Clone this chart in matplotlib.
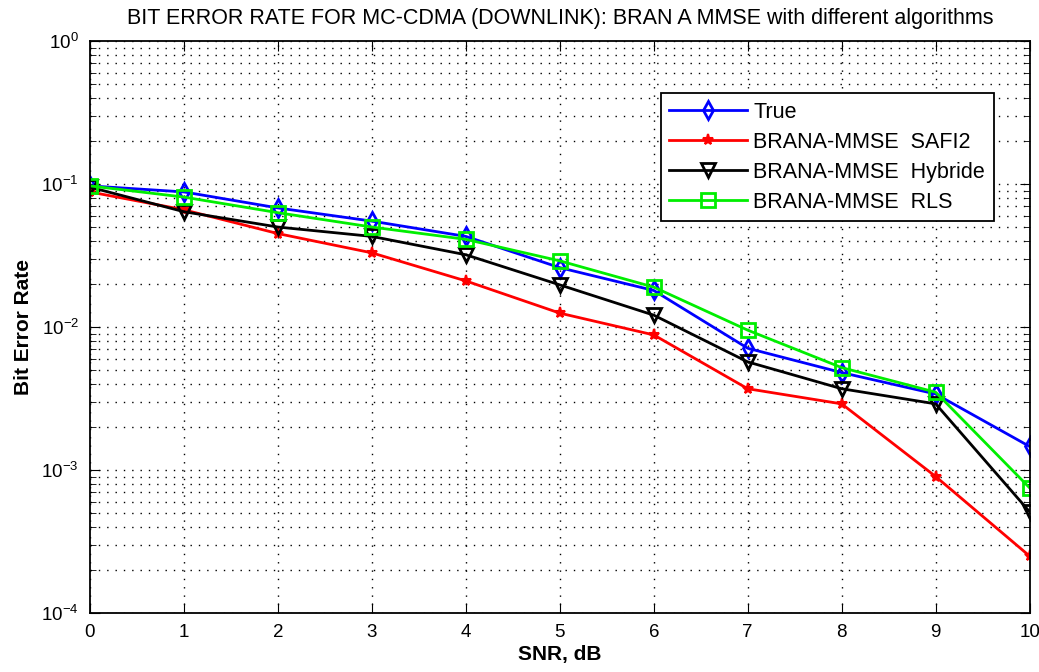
import numpy as np
import matplotlib
matplotlib.use("Agg")
import matplotlib.pyplot as plt
from matplotlib.ticker import LogLocator, NullFormatter

plt.rcParams["font.family"] = ["Liberation Sans", "DejaVu Sans"]
plt.rcParams["mathtext.fontset"] = "custom"
plt.rcParams["mathtext.rm"] = "Liberation Sans"

snr = [0, 1, 2, 3, 4, 5, 6, 7, 8, 9, 10]
ber_true = [0.097, 0.088, 0.068, 0.055, 0.043, 0.026, 0.018, 0.0071, 0.0048, 0.0034, 0.00146]
ber_safi2 = [0.088, 0.066, 0.045, 0.033, 0.021, 0.0125, 0.0088, 0.0037, 0.0029, 0.0009, 0.00025]
ber_hybride = [0.095, 0.064, 0.050, 0.043, 0.032, 0.0197, 0.0121, 0.0057, 0.0037, 0.0029, 0.00051]
ber_rls = [0.097, 0.081, 0.063, 0.050, 0.041, 0.029, 0.019, 0.0095, 0.0052, 0.0035, 0.00075]

labels = ["True", "BRANA-MMSE  SAFI2", "BRANA-MMSE  Hybride", "BRANA-MMSE  RLS"]

fig = plt.figure(figsize=(10.39, 6.72), dpi=100)
ax = fig.add_axes([0.0866, 0.0878, 0.9044, 0.8512])

ax.semilogy(snr, ber_true, color="blue", lw=2, marker="d", ms=9, mfc="none", mew=2, label=labels[0])
ax.semilogy(snr, ber_safi2, color="red", lw=2, marker="*", ms=8, mew=1.5, label=labels[1])
ax.semilogy(snr, ber_hybride, color="black", lw=2, marker="v", ms=10, mfc="none", mew=2, label=labels[2])
ax.semilogy(snr, ber_rls, color="#00ee00", lw=2, marker="s", ms=10, mfc="none", mew=2, label=labels[3])

ax.set_xlim(0, 10)
ax.set_ylim(1e-4, 1)
ax.set_xticks(range(0, 11))
ax.yaxis.set_major_locator(LogLocator(base=10, numticks=10))
ax.yaxis.set_minor_locator(LogLocator(base=10, subs=np.arange(2, 10), numticks=20))
ax.yaxis.set_minor_formatter(NullFormatter())

dots = (0, (1, 5))
ax.grid(True, which="major", ls=dots, color="black", lw=1)
ax.grid(True, which="minor", axis="y", ls=dots, color="black", lw=1)
ax.tick_params(which="both", direction="in", top=True, right=True, labelsize=13.5, pad=8)
ax.tick_params(which="major", length=7)
ax.tick_params(which="minor", length=4)
for s in ax.spines.values():
    s.set_linewidth(1.3)

ax.set_title("BIT ERROR RATE FOR MC-CDMA (DOWNLINK): BRAN A MMSE with different algorithms",
             fontsize=15.5, pad=12)
ax.set_xlabel("SNR, dB", fontsize=15, fontweight="bold", labelpad=3)
ax.set_ylabel("Bit Error Rate", fontsize=15, fontweight="bold", labelpad=6)

leg = ax.legend(loc="upper right", bbox_to_anchor=(0.973, 0.928), fontsize=15.5, handlelength=3.6,
                fancybox=False, framealpha=1, edgecolor="black", borderpad=0.4, labelspacing=0.42,
                handletextpad=0.3)
leg.get_frame().set_linewidth(1.3)

fig.savefig("out.png", dpi=100)
